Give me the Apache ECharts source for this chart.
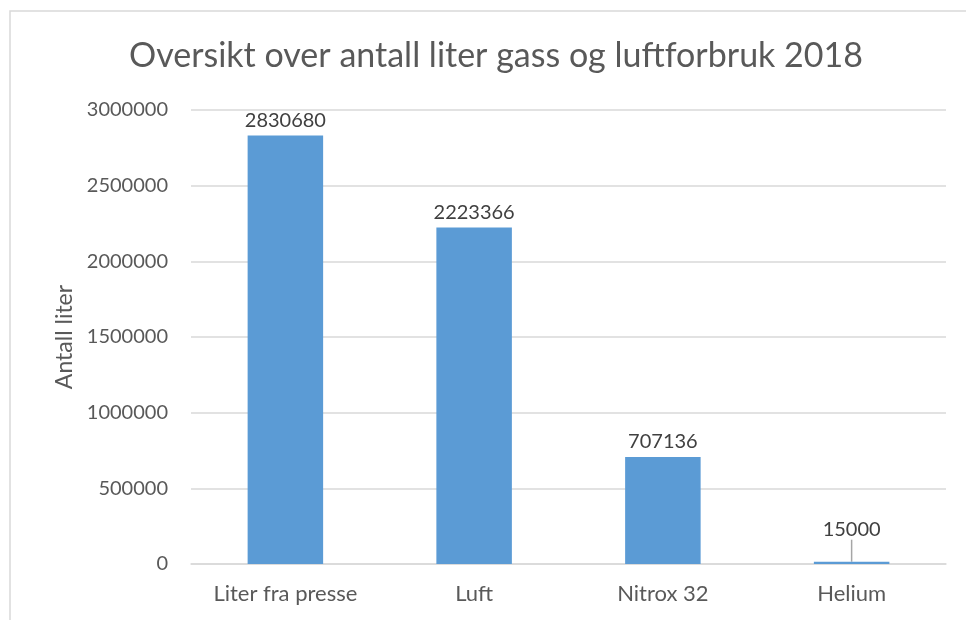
<!DOCTYPE html>
<html>
<head>
<meta charset="utf-8">
<script src="https://cdn.jsdelivr.net/npm/echarts@6/dist/echarts.min.js"></script>
<style>html,body{margin:0;padding:0;background:#fff}#c{width:966px;height:620px}</style>
</head>
<body>
<div id="c"></div>
<script>
var titleText = 'Oversikt over antall liter gass og luftforbruk 2018';
var categories = ['Liter fra presse', 'Luft', 'Nitrox 32', 'Helium'];
var values = [2830680, 2223366, 707136, 15000];
var yAxisName = 'Antall liter';

var FONT = 'Lato';
var chart = echarts.init(document.getElementById('c'), null, {renderer: 'canvas'});
var seriesData = values.map(function (v, i) {
  if (i === values.length - 1) {
    return {value: v, labelLine: {show: true, length2: 0, lineStyle: {color: '#a6a6a6', width: 1.5}}};
  }
  return v;
});
chart.setOption({
  backgroundColor: '#fff',
  animation: false,
  title: {
    text: titleText,
    left: 124,
    top: 34,
    textStyle: {fontFamily: FONT, fontSize: 34, fontWeight: 'normal', color: '#595959'}
  },
  graphic: [{
    type: 'rect',
    shape: {x: 10, y: 11, width: 1000, height: 700},
    style: {fill: 'none', stroke: '#d9d9d9', lineWidth: 1.5},
    silent: true
  }],
  grid: {left: 191, right: 20, top: 110, bottom: 56},
  xAxis: {
    type: 'category',
    data: categories,
    axisLine: {show: true, lineStyle: {color: '#d9d9d9', width: 1.5}},
    axisTick: {show: false},
    axisLabel: {fontFamily: FONT, fontSize: 22, color: '#595959', margin: 19}
  },
  yAxis: {
    type: 'value',
    min: 0,
    max: 3000000,
    interval: 500000,
    name: yAxisName,
    nameLocation: 'middle',
    nameGap: 114,
    nameTextStyle: {fontFamily: FONT, fontSize: 23, color: '#595959'},
    axisLine: {show: false},
    axisTick: {show: false},
    splitLine: {lineStyle: {color: '#d9d9d9', width: 1.5}},
    axisLabel: {
      fontFamily: FONT, fontSize: 20, color: '#595959', margin: 23,
      formatter: function (v) { return String(v); }
    }
  },
  series: [{
    type: 'bar',
    data: seriesData,
    barWidth: '40%',
    itemStyle: {color: '#5b9bd5'},
    label: {
      show: true,
      position: 'top',
      distance: 5,
      fontFamily: FONT,
      fontSize: 20,
      color: '#404040'
    },
    labelLayout: function (p) {
      if (p.dataIndex === values.length - 1) {
        return {dy: -17};
      }
      return {};
    }
  }]
});
</script>
</body>
</html>
